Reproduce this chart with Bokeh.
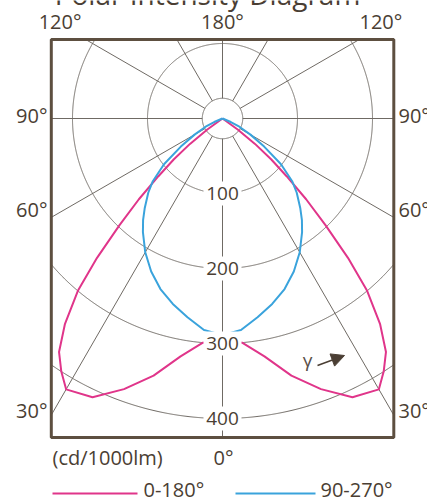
import numpy as np
from bokeh.plotting import figure
from bokeh.models import Range1d, Arrow, NormalHead
from bokeh.core.properties import value
from bokeh.embed import file_html
from bokeh.resources import INLINE

# Luminous intensity (cd/1000 lm) against gamma angle, 0° = straight down
gamma_c0 = [0, 5, 10, 15, 20, 25, 30, 32.5, 35, 37.5, 40, 42, 44, 46, 48, 50, 52, 54, 180]
cd_c0 = [296, 300, 322, 355, 384, 410, 417, 400, 380, 345, 300, 250, 198, 155, 115, 85, 55, 25, 0]

gamma_c90 = [0, 5, 10, 15, 20, 25, 30, 35, 38, 41, 45, 48, 52, 56, 60, 64, 67, 180]
cd_c90 = [289, 283, 269, 256, 242, 225, 206, 185, 172, 158, 140, 125, 99, 67, 43, 25, 12, 0]

ring_values = [100, 200, 300, 400]
ring_labels = ["100", "200", "300", "400"]
hub_radius = 27
spoke_angles = [0, 30, 60, 90, 120, 150, 180, 210, 240, 270, 300, 330]

series_names = ["0-180°", "90-270°"]
series_colors = ["#e0358a", "#3aa3dc"]

GRID = "#6f6a64"
FRAME = "#5d4f40"
INK = "#4a3e33"
FONT = value("Open Sans")

# screen mapping: 0.75 px per cd, pole at (222, 118) from the top-left corner
PX = 0.75
CX, CY = 222, 118


def sx(px):
    return (px - CX) / PX


def sy(py):
    return (CY - py) / PX


W, H = 427, 499
p = figure(width=W, height=H, output_backend="svg", toolbar_location=None,
           x_range=Range1d(sx(0), sx(W)), y_range=Range1d(sy(H), sy(0)),
           min_border=0, outline_line_color=None, background_fill_color="white",
           border_fill_color="white")
p.xaxis.visible = False
p.yaxis.visible = False
p.grid.visible = False

# frame of the diagram (centre of the border stroke)
fl, fr, ft, fb = sx(50.8), sx(393.3), sy(39), sy(437)


def inside(x, y):
    return (x > fl) & (x < fr) & (y < ft) & (y > fb)


# concentric rings, clipped to the frame
for r in ring_values + [hub_radius]:
    a = np.radians(np.arange(0, 360.01, 0.2))
    x = r * np.sin(a)
    y = -r * np.cos(a)
    m = inside(x, y)
    x = np.where(m, x, np.nan)
    y = np.where(m, y, np.nan)
    p.line(x, y, line_color=GRID, line_width=1)

# spokes from the hub out to the frame
xs, ys = [], []
for g in spoke_angles:
    a = np.radians(g)
    dx, dy = np.sin(a), -np.cos(a)
    ts = []
    if dx > 1e-9:
        ts.append(fr / dx)
    if dx < -1e-9:
        ts.append(fl / dx)
    if dy > 1e-9:
        ts.append(ft / dy)
    if dy < -1e-9:
        ts.append(fb / dy)
    t = min(ts)
    xs.append([hub_radius * dx, t * dx])
    ys.append([hub_radius * dy, t * dy])
p.multi_line(xs, ys, line_color=GRID, line_width=1)


def curve(gammas, values):
    g = np.radians(np.array(gammas, dtype=float))
    v = np.array(values, dtype=float)
    xr, yr = v * np.sin(g), -v * np.cos(g)
    x = np.concatenate([-xr[::-1], xr[1:]])
    y = np.concatenate([yr[::-1], yr[1:]])
    return x, y


for (gs, vs), col in zip([(gamma_c0, cd_c0), (gamma_c90, cd_c90)], series_colors):
    x, y = curve(gs, vs)
    p.line(x, y, line_color=col, line_width=2, line_join="round")

# ring value labels on the 0° axis
p.rect(x=[0] * len(ring_values), y=[-v for v in ring_values], width=38, height=24,
       width_units="screen", height_units="screen", fill_color="white", line_color=None)
p.text(x=[0] * len(ring_values), y=[-v for v in ring_values], text=ring_labels,
       text_font=FONT, text_font_size="19px", text_color=INK,
       text_align="center", text_baseline="middle")

# frame
p.quad(left=[fl], right=[fr], top=[ft], bottom=[fb], fill_color=None,
       line_color=FRAME, line_width=3)

# angle labels around the frame
lab = dict(text_font=FONT, text_font_size="20px", text_color=INK, text_baseline="middle")
p.text(x=[sx(81), sx(222)], y=[sy(21), sy(21)], text=["120°", "180°"],
       text_align=["right", "center"], **lab)
p.text(x=[sx(359)], y=[sy(21)], text=["120°"], text_align="left", **lab)
side_text = ["90°", "60°", "30°"]
side_mid = [sy(115), sy(208.5), sy(409.5)]
p.text(x=[sx(47)] * 3, y=side_mid, text=side_text, text_align="right", **lab)
p.text(x=[sx(398)] * 3, y=side_mid, text=side_text, text_align="left", **lab)

p.text(x=[sx(52), sx(223)], y=[sy(457), sy(457)], text=["(cd/1000lm)", "0°"],
       text_font=FONT, text_font_size="20px", text_color=INK,
       text_align=["left", "center"], text_baseline="middle")

# title, running off the top edge
p.text(x=[sx(207)], y=[sy(-7)], text=["Polar Intensity Diagram"], text_font=FONT,
       text_font_size="28px", text_color=INK, text_align="center",
       text_baseline="middle")

# gamma direction marker
p.text(x=[sx(307)], y=[sy(359)], text=["γ"], text_font=FONT,
       text_font_size="19px", text_color="#5a5048", text_align="center",
       text_baseline="middle")
p.add_layout(Arrow(x_start=sx(317), y_start=sy(365), x_end=sx(344), y_end=sy(355),
                   line_color=INK, line_width=1.5,
                   end=NormalHead(size=13, fill_color=INK, line_color=INK)))

# legend
p.segment(x0=[sx(52), sx(235)], y0=[sy(493), sy(493)],
          x1=[sx(137), sx(315)], y1=[sy(493), sy(493)],
          line_color=series_colors, line_width=2)
p.text(x=[sx(143), sx(320)], y=[sy(489), sy(489)], text=series_names,
       text_font=FONT, text_font_size="20px", text_color=INK,
       text_align="left", text_baseline="middle")

open("out.html", "w").write(file_html(p, INLINE))
